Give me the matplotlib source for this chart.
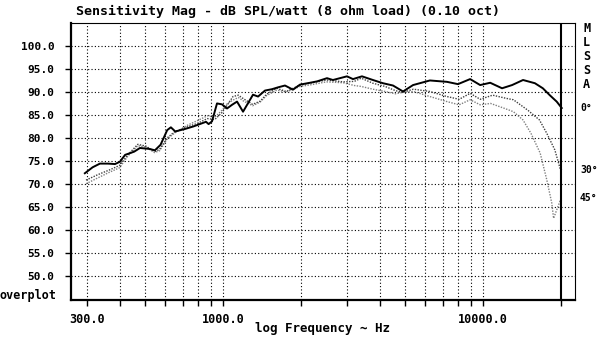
import matplotlib
matplotlib.use('Agg')
import matplotlib.pyplot as plt
from matplotlib.ticker import FixedLocator, NullFormatter

# 0 deg curve (solid)
f_0 = [294, 315, 336, 360, 384, 401, 420, 455, 479, 520, 547, 575, 610, 630, 655, 710, 770,
       860, 880, 907, 948, 991, 1036, 1083, 1132, 1194, 1304, 1364, 1450, 1543, 1627, 1731,
       1858, 1978, 2161, 2300, 2512, 2647, 2998, 3162, 3424, 3774, 4124, 4508, 4927, 5384,
       6250, 7273, 8015, 8926, 9757, 10665, 11844, 12946, 14265, 15846, 17000, 18071, 19217, 20100]
db_0 = [72.3, 73.6, 74.4, 74.4, 74.3, 74.8, 76.3, 77.0, 77.8, 77.6, 77.3, 78.5, 81.7, 82.3, 81.4, 81.9, 82.5,
        83.5, 83.0, 83.6, 87.5, 87.3, 86.4, 87.2, 87.9, 85.7, 89.4, 89.0, 90.3, 90.6, 91.0, 91.4,
        90.5, 91.6, 92.0, 92.3, 93.0, 92.6, 93.4, 92.8, 93.4, 92.6, 91.9, 91.4, 90.1, 91.5,
        92.5, 92.2, 91.7, 92.8, 91.5, 92.0, 90.8, 91.5, 92.6, 91.9, 90.8, 89.3, 87.9, 86.5]

# 30 deg curve (dark dotted)
f_30 = [297, 330, 365, 400, 430, 470, 505, 545, 570, 610, 650, 720, 800, 870, 930, 990, 1040,
        1092, 1145, 1200, 1300, 1390, 1470, 1610, 1750, 1980, 2200, 2500, 2900, 3200, 3400,
        3770, 4200, 4600, 4900, 5400, 6250, 7270, 8100, 8930, 9760, 10900, 12300, 13100,
        14900, 16500, 17600, 18900, 19800, 20100]
db_30 = [70.8, 72.0, 73.0, 74.0, 76.3, 78.6, 78.2, 77.0, 77.5, 80.0, 81.3, 82.3, 83.2, 84.2, 84.0, 85.5, 87.2,
         89.0, 89.3, 88.5, 87.3, 88.0, 89.5, 90.8, 90.1, 91.5, 92.0, 92.6, 92.2, 92.3, 93.0,
         91.9, 91.2, 90.3, 89.9, 90.6, 90.1, 89.0, 88.4, 89.7, 88.4, 89.3, 88.6, 88.3,
         86.0, 83.9, 81.0, 77.4, 73.4, 73.0]

# 45 deg curve (light dotted)
f_45 = [297, 330, 365, 400, 430, 470, 505, 545, 570, 610, 650, 720, 800, 870, 930, 990, 1040,
        1090, 1145, 1200, 1300, 1390, 1470, 1610, 1750, 1980, 2200, 2500, 2900, 3200, 3400,
        3770, 4200, 4600, 4920, 5400, 6250, 7270, 8100, 8930, 9760, 10700, 12000, 13100,
        14260, 15300, 16600, 17600, 18400, 18700, 19780, 20100]
db_45 = [70.0, 71.3, 72.5, 73.5, 76.0, 78.3, 78.0, 76.8, 77.2, 79.8, 81.0, 82.6, 83.8, 84.8, 84.5, 86.0, 87.5,
         88.2, 88.8, 88.0, 87.0, 87.8, 89.2, 90.4, 90.0, 91.2, 91.6, 92.2, 92.0, 91.4, 91.2,
         90.6, 90.1, 89.6, 89.9, 90.1, 89.0, 87.9, 87.2, 88.3, 87.2, 87.5, 86.5, 85.7,
         83.9, 81.0, 76.7, 70.9, 65.8, 62.5, 66.2, 66.5]

y_ticks = [50, 55, 60, 65, 70, 75, 80, 85, 90, 95, 100]
x_major = [300, 1000, 10000]
x_labels = ['300.0', '1000.0', '10000.0']
x_minor = [400, 500, 600, 700, 800, 900, 2000, 3000, 4000, 5000, 6000, 7000, 8000, 9000, 20000]

mono = 'DejaVu Sans Mono'
plt.rcParams['font.family'] = mono

fig = plt.figure(figsize=(6, 3.39), dpi=100)
ax = fig.add_axes([0.1183, 0.115, 0.84, 0.817])

dot = (0, (1, 2))
for f in x_major + x_minor[:-1]:
    ax.axvline(f, color='black', lw=0.8, ls=dot, zorder=1)
for y in y_ticks:
    ax.axhline(y, color='black', lw=0.8, ls=dot, zorder=1)
ax.axvline(20000, color='black', lw=1.5, zorder=3)

ax.semilogx(f_45, db_45, color='#808080', lw=1.0, ls=(0, (1, 1)), zorder=2)
ax.semilogx(f_30, db_30, color='#404040', lw=1.0, ls=(0, (1, 1)), zorder=2)
ax.semilogx(f_0, db_0, color='black', lw=1.4, zorder=4)

ax.set_xlim(260, 22600)
ax.set_ylim(44.7, 105)

ax.xaxis.set_major_locator(FixedLocator(x_major))
ax.set_xticklabels(x_labels)
ax.xaxis.set_minor_locator(FixedLocator(x_minor))
ax.xaxis.set_minor_formatter(NullFormatter())
ax.set_yticks(y_ticks)
ax.set_yticklabels(['%.1f' % v for v in y_ticks])

ax.tick_params(axis='both', which='both', direction='out', length=4, width=1.0, color='black')
ax.tick_params(axis='x', which='major', labelsize=8.5, pad=5)
ax.tick_params(axis='y', labelsize=8, pad=8)
for lab in ax.get_xticklabels() + ax.get_yticklabels():
    lab.set_fontweight('bold')

for side in ['left', 'bottom']:
    ax.spines[side].set_linewidth(1.6)
for side in ['top', 'right']:
    ax.spines[side].set_linewidth(0.8)

fig.text(0.48, 0.965, 'Sensitivity Mag - dB SPL/watt (8 ohm load) (0.10 oct)',
         ha='center', va='center', fontsize=9.5, fontweight='bold')
fig.text(0.538, 0.03, 'log Frequency ~ Hz', ha='center', va='center',
         fontsize=9, fontweight='bold')
fig.text(0.0, 1 - 296 / 339, 'overplot', ha='left', va='center', fontsize=8.5, fontweight='bold')

for ch, yy in zip(['M', 'L', 'S', 'S', 'A'], [29, 43, 57, 70, 85]):
    fig.text(583 / 600, 1 - yy / 339, ch, ha='left', va='center', fontsize=8.5, fontweight='bold')
for s, yy in zip(['0°', '30°', '45°'], [108, 170, 198]):
    fig.text(580 / 600, 1 - yy / 339, s, ha='left', va='center', fontsize=7, fontweight='bold')

fig.savefig('out.png', dpi=100)
